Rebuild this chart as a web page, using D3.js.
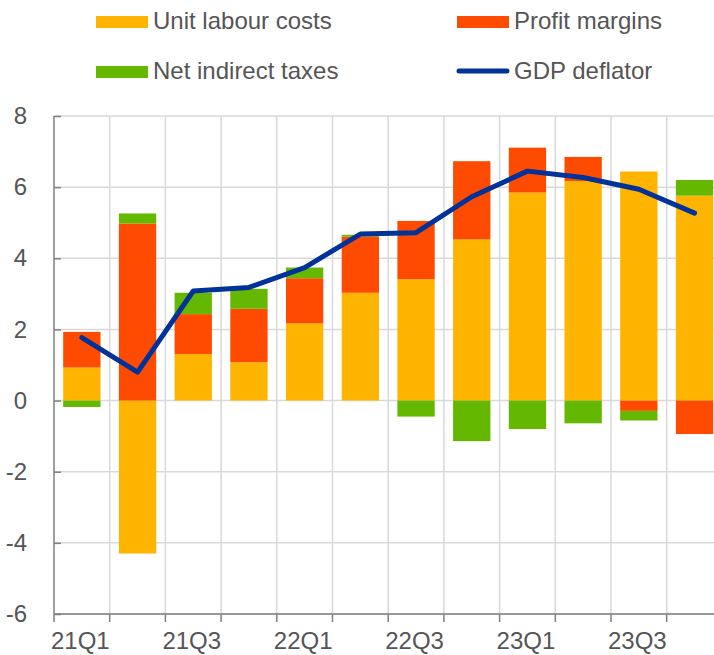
<!DOCTYPE html>
<html>
  <head>
    <meta charset="utf-8">
    <title>GDP deflator decomposition</title>
    <style>
      body {
        margin: 0;
        padding: 0;
        background: #fff;
        font-family: 'Liberation Sans', Arial, sans-serif;
      }
      svg { display: block; }
    </style>
  </head>
  <body>
    <div id="chart"></div>

    <script src="https://cdnjs.cloudflare.com/ajax/libs/d3/7.8.5/d3.min.js"></script>
    <script>
      // Data
      const quarters = ["21Q1", "21Q2", "21Q3", "21Q4", "22Q1", "22Q2",
                        "22Q3", "22Q4", "23Q1", "23Q2", "23Q3", "23Q4"];
      const unitLabourCosts = [0.93, -4.3, 1.31, 1.08, 2.17, 3.03, 3.41, 4.53, 5.85, 6.17, 6.44, 5.76];
      const profitMargins   = [1.0, 4.98, 1.12, 1.5, 1.27, 1.58, 1.64, 2.2, 1.26, 0.68, -0.29, -0.94];
      const netIndirectTaxes = [-0.18, 0.28, 0.6, 0.56, 0.3, 0.05, -0.45, -1.14, -0.8, -0.64, -0.27, 0.44];
      const gdpDeflator     = [1.77, 0.8, 3.08, 3.18, 3.74, 4.68, 4.72, 5.73, 6.45, 6.27, 5.94, 5.27];
      const yTicks = [-6, -4, -2, 0, 2, 4, 6, 8];
      const xLabels = ["21Q1", "21Q3", "22Q1", "22Q3", "23Q1", "23Q3"];

      const seriesKeys = ["ulc", "profit", "nit"];
      const seriesNames = {ulc: "Unit labour costs", profit: "Profit margins", nit: "Net indirect taxes"};
      const colors = {ulc: "#FFB400", profit: "#FF4B00", nit: "#65B800"};
      const lineColor = "#003299";
      const textColor = "#555555";

      const rows = quarters.map((q, i) => ({
        q: q,
        ulc: unitLabourCosts[i],
        profit: profitMargins[i],
        nit: netIndirectTaxes[i]
      }));

      const W = 714, H = 655;
      const plotLeft = 54, plotTop = 116, plotBottom = 614;
      const bandW = 55.7;

      const svg = d3.select('#chart')
                    .append('svg')
                    .attr('width', W)
                    .attr('height', H);

      const x = d3.scaleBand()
                  .domain(quarters)
                  .range([plotLeft, plotLeft + bandW * quarters.length])
                  .paddingInner(0.33)
                  .paddingOuter(0.165);

      const y = d3.scaleLinear()
                  .domain([-6, 8])
                  .range([plotBottom, plotTop]);

      // Grid
      const grid = svg.append('g');
      grid.selectAll('.hgrid')
          .data(yTicks)
          .enter()
          .append('line')
          .attr('x1', plotLeft)
          .attr('x2', W)
          .attr('y1', d => y(d))
          .attr('y2', d => y(d))
          .attr('stroke', '#d9d9d9')
          .attr('stroke-width', 1.5);

      const step = x.step();
      const boundaries = quarters.map((q, i) => x.range()[0] + i * step).slice(1);
      grid.selectAll('.vgrid')
          .data(boundaries)
          .enter()
          .append('line')
          .attr('x1', d => d)
          .attr('x2', d => d)
          .attr('y1', plotTop)
          .attr('y2', plotBottom)
          .attr('stroke', '#d9d9d9')
          .attr('stroke-width', 1.5);

      // Bars
      const stack = d3.stack()
                      .keys(seriesKeys)
                      .offset(d3.stackOffsetDiverging);
      const stacked = stack(rows);

      svg.append('g')
         .selectAll('g')
         .data(stacked)
         .enter()
         .append('g')
         .attr('fill', d => colors[d.key])
         .selectAll('rect')
         .data(d => d)
         .enter()
         .append('rect')
         .attr('x', d => x(d.data.q))
         .attr('width', x.bandwidth())
         .attr('y', d => y(Math.max(d[0], d[1])))
         .attr('height', d => Math.abs(y(d[0]) - y(d[1])));

      // Line
      const line = d3.line()
                     .x((d, i) => x(quarters[i]) + x.bandwidth() / 2)
                     .y(d => y(d));
      svg.append('path')
         .datum(gdpDeflator)
         .attr('d', line)
         .attr('fill', 'none')
         .attr('stroke', lineColor)
         .attr('stroke-width', 5)
         .attr('stroke-linejoin', 'round')
         .attr('stroke-linecap', 'round');

      // Axes (ticks point inwards on the y axis, downwards on the x axis)
      const yAxis = svg.append('g')
                       .attr('transform', `translate(${plotLeft},0)`)
                       .call(d3.axisLeft(y)
                               .tickValues(yTicks)
                               .tickSize(-7)
                               .tickPadding(27)
                               .tickFormat(d => String(d)));
      yAxis.select('.domain').attr('stroke', '#808080').attr('stroke-width', 1.5)
           .attr('d', `M0,${plotTop}V${plotBottom}`);
      yAxis.selectAll('.tick line').attr('stroke', '#808080').attr('stroke-width', 1.5);
      yAxis.selectAll('.tick text')
           .attr('fill', textColor)
           .style('font-size', '24px')
           .style('font-family', "'Liberation Sans', Arial, sans-serif");

      const xAxisG = svg.append('g');
      xAxisG.append('line')
            .attr('x1', plotLeft)
            .attr('x2', W)
            .attr('y1', plotBottom)
            .attr('y2', plotBottom)
            .attr('stroke', '#808080')
            .attr('stroke-width', 1.5);
      xAxisG.selectAll('.xtick')
            .data([plotLeft].concat(boundaries))
            .enter()
            .append('line')
            .attr('x1', d => d)
            .attr('x2', d => d)
            .attr('y1', plotBottom)
            .attr('y2', plotBottom + 8)
            .attr('stroke', '#808080')
            .attr('stroke-width', 1.5);
      xAxisG.selectAll('.xlabel')
            .data(xLabels)
            .enter()
            .append('text')
            .attr('x', d => x(d) + x.bandwidth() / 2 - 1.5)
            .attr('y', 649)
            .attr('text-anchor', 'middle')
            .attr('fill', textColor)
            .style('font-size', '24px')
            .text(d => d);

      // Legend
      const legendItems = [
        {key: 'ulc', label: seriesNames.ulc, x: 96, y: 21, type: 'rect'},
        {key: 'profit', label: seriesNames.profit, x: 457, y: 21, type: 'rect'},
        {key: 'nit', label: seriesNames.nit, x: 96, y: 71, type: 'rect'},
        {key: 'gdp', label: 'GDP deflator', x: 457, y: 71, type: 'line'}
      ];
      const legend = svg.append('g');
      legendItems.forEach(it => {
        if (it.type === 'rect') {
          legend.append('rect')
                .attr('x', it.x)
                .attr('y', it.y - 5)
                .attr('width', 52)
                .attr('height', 12)
                .attr('fill', colors[it.key]);
        } else {
          legend.append('line')
                .attr('x1', it.x + 2)
                .attr('x2', it.x + 50)
                .attr('y1', it.y)
                .attr('y2', it.y)
                .attr('stroke', lineColor)
                .attr('stroke-width', 5)
                .attr('stroke-linecap', 'round');
        }
        legend.append('text')
              .attr('x', it.x + 57)
              .attr('y', it.y + 8)
              .attr('fill', textColor)
              .style('font-size', '24px')
              .text(it.label);
      });
    </script>
  </body>
</html>
